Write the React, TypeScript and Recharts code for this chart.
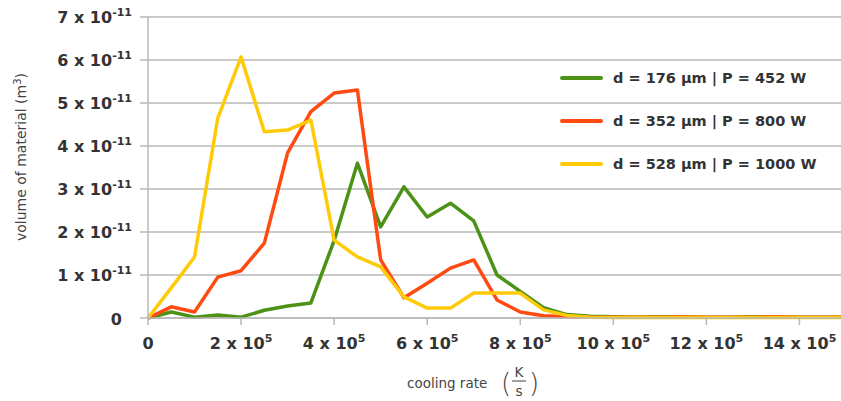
import React from "react";
import { LineChart, Line, XAxis, YAxis, CartesianGrid } from "recharts";

// cooling rate in units of 1e5 K/s
const coolingRate = [0, 0.5, 1, 1.5, 2, 2.5, 3, 3.5, 4, 4.5, 5, 5.5, 6, 6.5, 7, 7.5, 8, 8.5, 9, 9.5, 10, 10.5, 11, 11.5, 12, 12.5, 13, 13.5, 14, 14.5, 15];
// volume of material in units of 1e-11 m^3
const green176 = [0, 0.14, 0.02, 0.07, 0.02, 0.18, 0.28, 0.35, 1.8, 3.6, 2.12, 3.05, 2.35, 2.67, 2.26, 1.0, 0.62, 0.24, 0.08, 0.04, 0.03, 0.02, 0.03, 0.02, 0.02, 0.02, 0.03, 0.02, 0.02, 0.02, 0.02];
const red352 = [0, 0.26, 0.14, 0.95, 1.1, 1.74, 3.84, 4.8, 5.23, 5.3, 1.35, 0.47, 0.81, 1.16, 1.35, 0.42, 0.14, 0.05, 0.03, 0.02, 0.02, 0.02, 0.02, 0.03, 0.02, 0.02, 0.02, 0.03, 0.02, 0.02, 0.02];
const yellow528 = [0, 0.7, 1.42, 4.65, 6.07, 4.33, 4.37, 4.6, 1.81, 1.42, 1.19, 0.49, 0.23, 0.23, 0.58, 0.58, 0.58, 0.19, 0.06, 0.02, 0.01, 0.01, 0.01, 0.01, 0.01, 0.01, 0.01, 0.01, 0.01, 0.01, 0.01];

const xTicks = [0, 2, 4, 6, 8, 10, 12, 14];
const yTicks = [0, 1, 2, 3, 4, 5, 6, 7];

const seriesNames = ["d = 176 µm | P = 452 W", "d = 352 µm | P = 800 W", "d = 528 µm | P = 1000 W"];
const seriesKeys = ["g", "r", "y"];
const seriesColors = ["#4c9216", "#ff4a12", "#ffca08"];

const data = coolingRate.map((x, i) => ({ x, g: green176[i], r: red352[i], y: yellow528[i] }));

const FONT = "'DejaVu Sans', sans-serif";
const TICK_COLOR = "#333333";
const GRID = "#b8b8b8";

const YTick = (props: any) => {
  const { x, y, payload } = props;
  const v = payload.value;
  if (v === 0) {
    return (
      <text x={x - 16} y={y + 7} textAnchor="end" fontFamily={FONT} fontWeight="bold" fontSize={16} fill={TICK_COLOR}>
        0
      </text>
    );
  }
  return (
    <text x={x - 6} y={y + 6} textAnchor="end" fontFamily={FONT} fontWeight="bold" fontSize={16} fill={TICK_COLOR}>
      {v} x 10<tspan dy={-7} fontSize={11}>-11</tspan>
    </text>
  );
};

const XTick = (props: any) => {
  const { x, y, payload } = props;
  const v = payload.value;
  if (v === 0) {
    return (
      <text x={x} y={y + 22} textAnchor="middle" fontFamily={FONT} fontWeight="bold" fontSize={16} fill={TICK_COLOR}>
        0
      </text>
    );
  }
  return (
    <text x={x} y={y + 22} textAnchor="middle" fontFamily={FONT} fontWeight="bold" fontSize={16} fill={TICK_COLOR}>
      {v} x 10<tspan dy={-7} fontSize={11}>5</tspan>
    </text>
  );
};

const XLabel = () => (
  <g fontFamily={FONT} fill="#444444">
    <text x={407} y={388} fontSize={13.5}>cooling rate</text>
    <text x={501} y={392} fontSize={26} fontWeight="300">(</text>
    <text x={519} y={377} fontSize={13.5} textAnchor="middle">K</text>
    <line x1={512} x2={526} y1={381} y2={381} stroke="#444444" strokeWidth={1} />
    <text x={519} y={396} fontSize={13.5} textAnchor="middle">s</text>
    <text x={529} y={392} fontSize={26} fontWeight="300">)</text>
  </g>
);

const YLabel = () => (
  <text
    x={26}
    y={157}
    transform="rotate(-90 26 157)"
    textAnchor="middle"
    fontFamily={FONT}
    fontSize={14}
    fill="#444444"
  >
    volume of material  (m<tspan dy={-5} fontSize={10}>3</tspan><tspan dy={5}>)</tspan>
  </text>
);

const LegendBox = () => (
  <div style={{ position: "absolute", left: 560, top: 56, fontFamily: FONT }}>
    {seriesNames.map((name, i) => (
      <div key={name} style={{ display: "flex", alignItems: "center", height: 43.3 }}>
        <div style={{ width: 43, height: 4, background: seriesColors[i], borderRadius: 2, marginRight: 10 }} />
        <span style={{ fontSize: 14.5, fontWeight: "bold", color: "#333333", whiteSpace: "nowrap" }}>{name}</span>
      </div>
    ))}
  </div>
);

export default function App() {
  return (
    <div style={{ position: "absolute", left: 0, top: 0, width: 841, height: 401, overflow: "hidden", background: "#fff" }}>
      <LineChart width={846} height={401} data={data} margin={{ top: 17, right: 0, bottom: 0, left: 0 }}>
        <CartesianGrid vertical={false} stroke={GRID} strokeWidth={1.5} />
        <XAxis
          dataKey="x"
          type="number"
          domain={[0, 15]}
          ticks={xTicks}
          interval={0}
          tickSize={7}
          tick={<XTick />}
          stroke={GRID}
          strokeWidth={1.5}
          height={83}
          label={<XLabel />}
        />
        <YAxis
          type="number"
          domain={[0, 7]}
          ticks={yTicks}
          interval={0}
          tickSize={8}
          width={148}
          tick={<YTick />}
          stroke={GRID}
          strokeWidth={1.5}
          label={<YLabel />}
        />
        {seriesKeys.map((k, i) => (
          <Line
            key={k}
            dataKey={k}
            name={seriesNames[i]}
            stroke={seriesColors[i]}
            strokeWidth={3.5}
            dot={false}
            isAnimationActive={false}
            type="linear"
            strokeLinejoin="round"
          />
        ))}
      </LineChart>
      <LegendBox />
    </div>
  );
}
